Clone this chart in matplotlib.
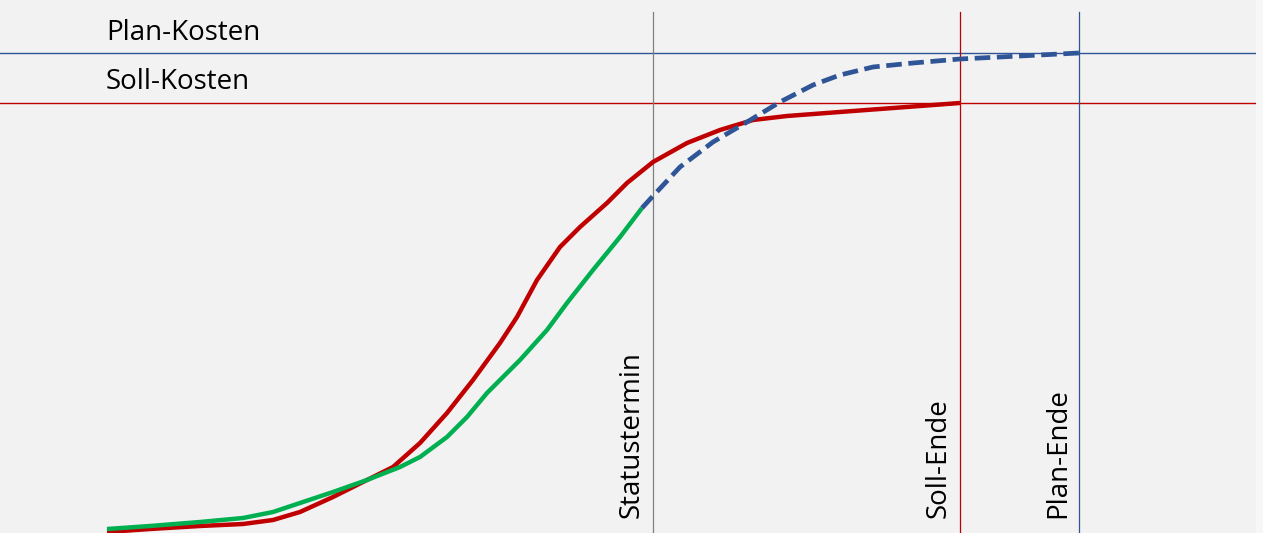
import matplotlib.pyplot as plt

# time axis (arbitrary units) and cumulative costs
soll_x = [107, 150, 200, 243, 273, 300, 333, 367, 393, 420, 447, 473, 500,
          517, 537, 560, 580, 607, 627, 653, 687, 720, 753, 787, 853, 960]
soll_y = [1, 4, 7, 9, 13, 21, 36, 53, 66, 90, 120, 153, 190,
          216, 253, 286, 306, 330, 350, 371, 390, 403, 413, 417, 422, 430]

ist_x = [107, 150, 200, 243, 273, 300, 333, 367, 400, 420, 447, 467, 487,
         520, 547, 567, 593, 620, 642]
ist_y = [4, 7, 11, 15, 21, 30, 41, 53, 66, 76, 96, 116, 140,
         173, 203, 230, 263, 296, 325]

prog_x = [642, 653, 680, 713, 747, 780, 813, 840, 873, 913, 960, 1020, 1079]
prog_y = [325, 337, 366, 391, 411, 431, 448, 458, 466, 470, 474, 477, 480]

statustermin = 653
soll_ende = 960
plan_ende = 1079
plan_kosten = 480
soll_kosten = 430

red = '#c00000'
green = '#00b050'
blue = '#2f5597'

plt.rcParams['font.family'] = ['Open Sans', 'DejaVu Sans']

fig = plt.figure(figsize=(12.63, 5.33), dpi=100, facecolor='#f7f7f7')
ax = fig.add_axes([0, 0, 1256 / 1263, 1])
ax.set_facecolor('#f2f2f2')
ax.set_xlim(0, 1256)
ax.set_ylim(0, 533)
for s in ax.spines.values():
    s.set_visible(False)
ax.set_xticks([])
ax.set_yticks([])

# reference lines
ax.axhline(plan_kosten, color=blue, lw=1.0)
ax.axhline(soll_kosten, color=red, lw=1.0)
ax.axvline(statustermin, ymin=0, ymax=521 / 533, color='#808080', lw=0.9)
ax.axvline(soll_ende, ymin=0, ymax=521 / 533, color=red, lw=0.9)
ax.axvline(plan_ende, ymin=0, ymax=521 / 533, color=blue, lw=0.9)

# curves
ax.plot(soll_x, soll_y, color=red, lw=3.2, solid_capstyle='butt', solid_joinstyle='round')
ax.plot(ist_x, ist_y, color=green, lw=3.2, solid_capstyle='butt', solid_joinstyle='round')
ax.plot(prog_x, prog_y, color=blue, lw=3.4, dashes=(3.3, 1.4), dash_capstyle='butt')

# labels
ax.text(106, 533 - 33, 'Plan-Kosten', fontsize=20, ha='left', va='center')
ax.text(106, 533 - 82, 'Soll-Kosten', fontsize=20, ha='left', va='center')
ax.text(statustermin - 7, 15, 'Statustermin', fontsize=20, rotation=90, ha='right', va='bottom')
ax.text(soll_ende - 7, 15, 'Soll-Ende', fontsize=20, rotation=90, ha='right', va='bottom')
ax.text(plan_ende - 7, 15, 'Plan-Ende', fontsize=20, rotation=90, ha='right', va='bottom')

fig.savefig('out.png', dpi=100, facecolor=fig.get_facecolor())
